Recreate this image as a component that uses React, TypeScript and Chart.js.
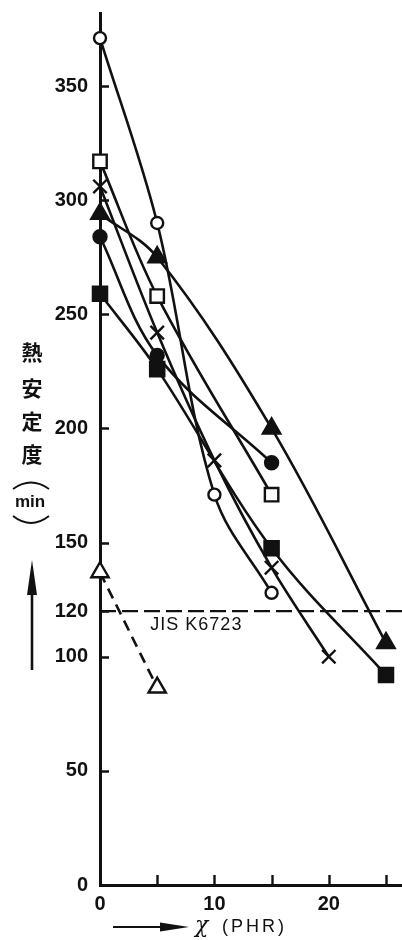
import { useEffect, useRef } from "react";
import { Chart, registerables } from "chart.js";

Chart.register(...registerables);

const W = 402;
const H = 940;

// PHR levels on the horizontal axis
const phr = [0, 5, 10, 15, 20, 25];
const xTickValues = [0, 5, 10, 15, 20, 25];
const xTickLabels = [0, 10, 20];
const yTickValues = [0, 50, 100, 120, 150, 200, 250, 300, 350];

// 熱安定度 (min) for each compound; null = not measured
const openCircle = [371, 290, 171, 128, null, null];
const openSquare = [317, 258, null, 171, null, null];
const crossMark = [306, 242, 186, 139, 100, null];
const filledTriangle = [294, 275, null, 200, null, 106];
const filledCircle = [284, 232, null, 185, null, null];
const filledSquare = [259, 226, null, 147.5, null, 92];
const openTriangle = [137, 86.5, null, null, null, null];

const jisLimit = 120;
const jisLabel = "JIS K6723";
const yTitleChars = ["熱", "安", "定", "度"];
const yUnit = "min";
const xSymbol = "χ";
const xUnit = "(PHR)";

const X_MAX = 26.4;
const Y_MAX = 382;
const INK = "#111";

const toPoints = (vals: (number | null)[]) =>
  phr
    .map((x, i) => (vals[i] == null ? null : { x, y: vals[i] as number }))
    .filter((p) => p !== null) as { x: number; y: number }[];

const series = (
  vals: (number | null)[],
  style: string,
  radius: number,
  filled: boolean,
  dash: number[] = []
) => ({
  data: toPoints(vals),
  borderColor: INK,
  borderWidth: 2.6,
  borderDash: dash,
  tension: 0.35,
  fill: false,
  clip: false as const,
  pointStyle: style,
  pointRadius: radius,
  pointBorderWidth: 2.4,
  pointBorderColor: INK,
  pointBackgroundColor: filled ? INK : "#fff",
});

const noPadding = (s: any) => {
  s.paddingTop = 0;
  s.paddingBottom = 0;
  s.paddingLeft = 0;
  s.paddingRight = 0;
};

// inward tick marks and the hand-lettered axis titles
const decorations = {
  id: "decorations",
  beforeDatasetsDraw(chart: any) {
    const { ctx, scales } = chart;
    const xs = scales.x;
    const ys = scales.y;
    const x0 = xs.getPixelForValue(0);
    const y0 = ys.getPixelForValue(0);
    ctx.save();
    ctx.strokeStyle = INK;
    ctx.lineWidth = 2.4;
    ctx.beginPath();
    yTickValues.forEach((v) => {
      if (v === 0) return;
      const y = Math.round(ys.getPixelForValue(v)) + 0.5;
      ctx.moveTo(x0, y);
      ctx.lineTo(x0 + 9, y);
    });
    xTickValues.forEach((v) => {
      if (v === 0) return;
      const x = Math.round(xs.getPixelForValue(v)) + 0.5;
      ctx.moveTo(x, y0);
      ctx.lineTo(x, y0 - 10);
    });
    ctx.stroke();

    // standard label under the dashed limit line
    ctx.fillStyle = INK;
    ctx.font = "18px 'Liberation Sans', sans-serif";
    (ctx as any).letterSpacing = "1px";
    ctx.textAlign = "left";
    ctx.textBaseline = "middle";
    ctx.fillText(jisLabel, xs.getPixelForValue(4.4), ys.getPixelForValue(jisLimit) + 14);
    (ctx as any).letterSpacing = "0px";
    ctx.restore();
  },
  afterDraw(chart: any) {
    const { ctx } = chart;
    ctx.save();
    ctx.fillStyle = INK;
    ctx.strokeStyle = INK;

    // vertical title
    ctx.font = "bold 21px 'Noto Sans CJK JP', sans-serif";
    ctx.textAlign = "center";
    ctx.textBaseline = "middle";
    const cy = [352, 388, 421, 454];
    yTitleChars.forEach((c, i) => ctx.fillText(c, 32, cy[i]));

    ctx.font = "bold 17px 'Liberation Sans', sans-serif";
    ctx.fillText(yUnit, 30, 502);
    ctx.lineWidth = 1.8;
    ctx.beginPath();
    ctx.moveTo(13, 489);
    ctx.quadraticCurveTo(31, 476, 49, 489);
    ctx.moveTo(13, 516);
    ctx.quadraticCurveTo(31, 530, 49, 516);
    ctx.stroke();

    // up arrow
    ctx.lineWidth = 2.6;
    ctx.beginPath();
    ctx.moveTo(32, 670);
    ctx.lineTo(32, 590);
    ctx.stroke();
    ctx.beginPath();
    ctx.moveTo(32, 560);
    ctx.lineTo(37, 595);
    ctx.lineTo(27, 595);
    ctx.closePath();
    ctx.fill();

    // right arrow + horizontal title
    const ay = 927;
    ctx.lineWidth = 2.2;
    ctx.beginPath();
    ctx.moveTo(113, ay);
    ctx.lineTo(165, ay);
    ctx.stroke();
    ctx.beginPath();
    ctx.moveTo(189, ay);
    ctx.lineTo(160, ay - 4.5);
    ctx.lineTo(160, ay + 4.5);
    ctx.closePath();
    ctx.fill();

    ctx.textAlign = "left";
    ctx.font = "italic 22px 'DejaVu Serif', serif";
    ctx.fillText(xSymbol, 195, ay - 1);
    ctx.font = "18px 'Liberation Sans', sans-serif";
    (ctx as any).letterSpacing = "3px";
    ctx.fillText(xUnit, 222, ay);
    (ctx as any).letterSpacing = "0px";
    ctx.restore();
  },
};

export default function App() {
  const canvasRef = useRef<HTMLCanvasElement | null>(null);

  useEffect(() => {
    const canvas = canvasRef.current;
    if (!canvas) return;
    const tickFont = { family: "'Liberation Sans', sans-serif", size: 20, weight: "bold" };

    const chart = new Chart(canvas, {
      type: "line",
      data: {
        datasets: [
          {
            data: [
              { x: 0, y: jisLimit },
              { x: X_MAX, y: jisLimit },
            ],
            borderColor: INK,
            borderWidth: 2.2,
            borderDash: [16, 6],
            pointRadius: 0,
            tension: 0,
            fill: false,
            clip: false,
          },
          series(openTriangle, "triangle", 10, false, [11, 7]),
          series(filledSquare, "rect", 10, true),
          series(filledCircle, "circle", 6.5, true),
          series(filledTriangle, "triangle", 10, true),
          series(crossMark, "crossRot", 9.5, false),
          series(openSquare, "rect", 9.5, false),
          series(openCircle, "circle", 6, false),
        ] as any,
      },
      options: {
        animation: false,
        responsive: false,
        devicePixelRatio: 1,
        layout: { autoPadding: false, padding: { top: 13, right: 0, bottom: 0, left: 0 } },
        plugins: {
          legend: { display: false },
          tooltip: { enabled: false },
        },
        scales: {
          x: {
            type: "linear",
            min: 0,
            max: X_MAX,
            afterBuildTicks: (s: any) => {
              s.ticks = xTickValues.map((v) => ({ value: v }));
            },
            afterFit: (s: any) => {
              s.height = 55;
              noPadding(s);
            },
            ticks: {
              font: tickFont,
              color: INK,
              padding: 7,
              maxRotation: 0,
              autoSkip: false,
              callback: (v: any) => (xTickLabels.includes(Number(v)) ? String(v) : ""),
            },
            grid: { display: false, drawTicks: false },
            border: { color: INK, width: 3 },
          },
          y: {
            type: "linear",
            min: 0,
            max: Y_MAX,
            afterBuildTicks: (s: any) => {
              s.ticks = yTickValues.map((v) => ({ value: v }));
            },
            afterFit: (s: any) => {
              s.width = 100;
              noPadding(s);
            },
            ticks: {
              font: tickFont,
              color: INK,
              padding: 12,
              autoSkip: false,
              callback: (v: any) => String(v),
            },
            grid: { display: false, drawTicks: false },
            border: { color: INK, width: 3 },
          },
        },
      } as any,
      plugins: [decorations],
    });

    return () => chart.destroy();
  }, []);

  return (
    <div style={{ position: "absolute", left: 0, top: 0, width: W, height: H, background: "#fff" }}>
      <canvas ref={canvasRef} width={W} height={H} style={{ display: "block", width: W, height: H }} />
    </div>
  );
}
